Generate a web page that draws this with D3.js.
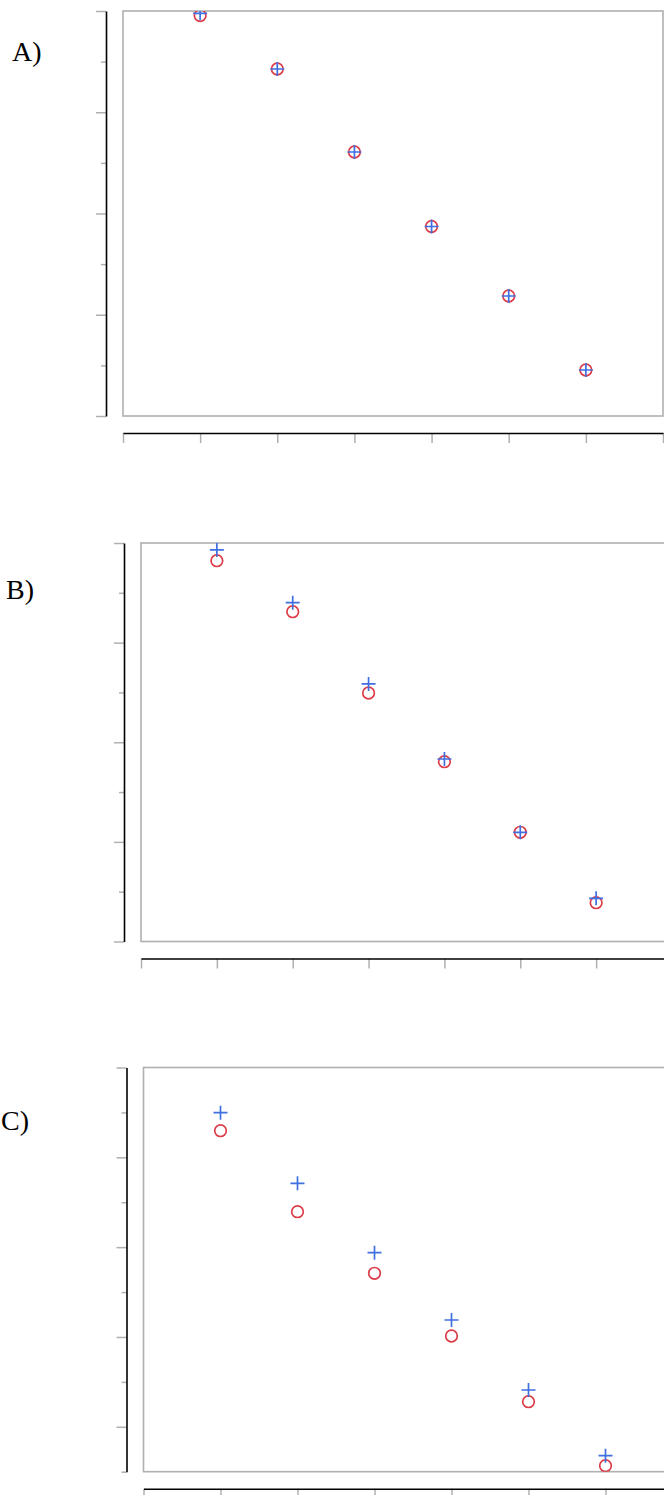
<!DOCTYPE html>
<html>
<head>
<meta charset="utf-8">
<script src="https://cdn.jsdelivr.net/npm/d3@7/dist/d3.min.js"></script>
<style>
body { margin: 0; background: #fff; }
</style>
</head>
<body>
<div class="charts"></div>
<script>
// x positions of the points and the bottom axis ticks
const xTicks = [0, 1, 2, 3, 4, 5, 6, 7];
const xValues = [1, 2, 3, 4, 5, 6];

// y tick values (no labels in the picture)
const yTicksAB = [0, 1, 2, 3, 4, 5, 6, 7, 8];
const yTicksC = [0, 1, 2, 3, 4, 5, 6, 7, 8, 9];

// values: plus = blue, circle = red
const plusA   = [7.955, 6.854, 5.215, 3.743, 2.370, 0.909];
const circleA = [7.911, 6.854, 5.215, 3.743, 2.370, 0.909];

const plusB   = [7.860, 6.802, 5.170, 3.664, 2.192, 0.867];
const circleB = [7.645, 6.621, 4.989, 3.610, 2.192, 0.779];

const plusC   = [7.994, 6.422, 4.876, 3.378, 1.819, 0.356];
const circleC = [7.593, 5.789, 4.418, 3.022, 1.559, 0.134];

const panelLabels = ["A)", "B)", "C)"];

const layout = [
  {left: 123, top: 11, width: 540, height: 405, labelX: 12, labelY: 61},
  {left: 141, top: 543, width: 531, height: 398.5, labelX: 6, labelY: 599},
  {left: 143.5, top: 1067.5, width: 539, height: 404.2, labelX: 1, labelY: 1130}
];

const red = "#dc3c48", blue = "#3f6fe0", grey = "#b0b0b0";
const gap = 17;

const svg = d3.select(".charts")
  .append("svg")
    .attr("width", 664)
    .attr("height", 1495);

function drawPanel(i, plus, circle, yTicks)
{
  const p = layout[i];
  const yMax = yTicks[yTicks.length - 1];

  const x = d3.scaleLinear()
    .domain([xTicks[0], xTicks[xTicks.length - 1]])
    .range([p.left, p.left + p.width]);

  const y = d3.scaleLinear()
    .domain([yTicks[0], yMax])
    .range([p.top + p.height, p.top]);

  const g = svg.append("g");

  // panel label
  g.append("text")
    .attr("x", p.labelX)
    .attr("y", p.labelY)
    .style("font-family", "'Liberation Serif', 'Times New Roman', serif")
    .style("font-size", "28px")
    .attr("fill", "#000")
    .text(panelLabels[i]);

  // left axis: long and short ticks
  const major = yTicks.filter(v => (yMax - v) % 2 === 0);
  const minor = yTicks.filter(v => (yMax - v) % 2 === 1);

  const yAxis = g.append("g")
    .attr("transform", "translate(" + (p.left - gap) + ",0)")
    .call(d3.axisLeft(y).tickValues(major).tickSize(10).tickSizeOuter(0).tickFormat(""));
  g.append("g")
    .attr("transform", "translate(" + (p.left - gap) + ",0)")
    .call(d3.axisLeft(y).tickValues(minor).tickSize(5).tickSizeOuter(0).tickFormat(""))
    .select(".domain").remove();

  // bottom axis
  const xAxis = g.append("g")
    .attr("transform", "translate(0," + (p.top + p.height + gap) + ")")
    .call(d3.axisBottom(x).tickValues(xTicks).tickSize(10).tickSizeOuter(0).tickFormat(""));

  g.selectAll(".tick line")
    .attr("stroke", grey)
    .attr("stroke-width", 1.5);
  g.selectAll(".domain")
    .attr("stroke", "#000")
    .attr("stroke-width", 1.6);
  yAxis.raise();
  xAxis.raise();
  g.selectAll(".domain").raise();

  // plot frame
  g.append("rect")
    .attr("x", p.left)
    .attr("y", p.top)
    .attr("width", p.width)
    .attr("height", p.height)
    .attr("fill", "none")
    .attr("stroke", grey)
    .attr("stroke-width", 1.6);

  g.append("clipPath")
    .attr("id", "clip" + i)
    .append("rect")
      .attr("x", p.left)
      .attr("y", p.top)
      .attr("width", p.width)
      .attr("height", p.height);

  const marks = g.append("g").attr("clip-path", "url(#clip" + i + ")");

  marks.selectAll("circle")
    .data(circle)
    .enter()
    .append("circle")
      .attr("cx", (d, j) => x(xValues[j]))
      .attr("cy", d => y(d))
      .attr("r", 5.8)
      .attr("fill", "none")
      .attr("stroke", red)
      .attr("stroke-width", 1.7);

  marks.selectAll("path.plus")
    .data(plus)
    .enter()
    .append("path")
      .attr("class", "plus")
      .attr("d", "M-7,0H7M0,-7V7")
      .attr("transform", (d, j) => "translate(" + x(xValues[j]) + "," + y(d) + ")")
      .attr("stroke", blue)
      .attr("stroke-width", 1.7);
}

drawPanel(0, plusA, circleA, yTicksAB);
drawPanel(1, plusB, circleB, yTicksAB);
drawPanel(2, plusC, circleC, yTicksC);
</script>
</body>
</html>
